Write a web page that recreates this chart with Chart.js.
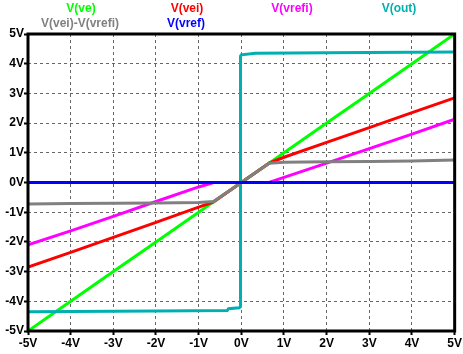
<!DOCTYPE html>
<html lang="en">
  <head>
    <meta charset="UTF-8" />
    <title>LTspice DC sweep</title>
    <style>
      body {
        margin: 0;
        background-color: #ffffff;
      }
      .chart-box {
        position: relative;
        width: 463px;
        height: 354px;
      }
    </style>
    <script src="https://cdn.jsdelivr.net/npm/chart.js"></script>
  </head>
  <body>
    <div class="chart-box">
      <canvas id="sweepChart"></canvas>
    </div>

    <script>
      // sweep values (V) and traces
      const sweepX = [-5, -4, -3, -2, -1, -0.65, 0, 0.65, 1, 2, 3, 4, 5];
      const vVe = [-5, -4, -3, -2, -1, -0.65, 0, 0.65, 1, 2, 3, 4, 5];
      const vVei = [-2.85, -2.35, -1.85, -1.34, -0.83, -0.65, 0, 0.65, 0.85, 1.35, 1.85, 2.35, 2.85];
      const vVrefi = [-2.1, -1.63, -1.14, -0.64, -0.15, 0, 0, 0, 0.17, 0.65, 1.14, 1.63, 2.13];
      const vDiff = [-0.72, -0.71, -0.7, -0.69, -0.67, -0.64, 0, 0.65, 0.68, 0.7, 0.71, 0.72, 0.76];
      const vVref = [0, 0, 0, 0, 0, 0, 0, 0, 0, 0, 0, 0, 0];

      const outX = [-5, -2, -0.33, -0.3, -0.05, -0.02, -0.02, 0, 0.33, 2, 5];
      const vOut = [-4.35, -4.33, -4.31, -4.25, -4.22, -4.18, 4.25, 4.3, 4.35, 4.37, 4.39];

      const tickValues = [-5, -4, -3, -2, -1, 0, 1, 2, 3, 4, 5];

      function pts(xs, ys) {
        return xs.map((x, i) => ({ x: x, y: ys[i] }));
      }

      const traces = [
        { label: 'V(ve)', xs: sweepX, ys: vVe, color: '#00ff00', order: 5, lx: 81, ly: 9 },
        { label: 'V(vei)', xs: sweepX, ys: vVei, color: '#ff0000', order: 4, lx: 187, ly: 9 },
        { label: 'V(vrefi)', xs: sweepX, ys: vVrefi, color: '#ff00ff', order: 3, lx: 292, ly: 9 },
        { label: 'V(out)', xs: outX, ys: vOut, color: '#00b0b0', order: 2, lx: 399, ly: 9 },
        { label: 'V(vei)-V(vrefi)', xs: sweepX, ys: vDiff, color: '#808080', order: 1, lx: 80, ly: 24 },
        { label: 'V(vref)', xs: sweepX, ys: vVref, color: '#0000ff', order: 0, lx: 186, ly: 24 }
      ];

      const labelFont = 'bold 12px "Liberation Sans", Arial, sans-serif';

      // trace names above the plot and the black frame
      const spicePlugin = {
        id: 'spice',
        afterDraw(chart) {
          const ctx = chart.ctx;
          const a = chart.chartArea;
          ctx.save();
          ctx.strokeStyle = '#000';
          ctx.lineWidth = 3;
          ctx.strokeRect(a.left, a.top, a.right - a.left, a.bottom - a.top);
          ctx.font = labelFont;
          ctx.textAlign = 'center';
          ctx.textBaseline = 'middle';
          traces.forEach(t => {
            ctx.fillStyle = t.color;
            ctx.fillText(t.label, t.lx, t.ly);
          });
          ctx.restore();
        }
      };

      const axisStyle = {
        type: 'linear',
        min: -5,
        max: 5,
        afterBuildTicks: axis => {
          axis.ticks = tickValues.map(v => ({ value: v }));
        },
        ticks: {
          color: '#000',
          font: { family: '"Liberation Sans", Arial, sans-serif', size: 12, weight: 'bold' },
          padding: 1,
          callback: v => v + 'V'
        },
        grid: {
          color: '#666',
          lineWidth: 1,
          tickLength: 4,
          tickColor: '#000',
          tickWidth: 2
        },
        border: { display: false, dash: [3, 3] }
      };

      new Chart(document.getElementById('sweepChart'), {
        type: 'line',
        data: {
          datasets: traces.map(t => ({
            label: t.label,
            data: pts(t.xs, t.ys),
            borderColor: t.color,
            backgroundColor: t.color,
            borderWidth: 3,
            pointRadius: 0,
            tension: 0,
            order: t.order
          }))
        },
        options: {
          responsive: true,
          maintainAspectRatio: false,
          animation: false,
          layout: { padding: { top: 34, right: 8, left: 0, bottom: 0 } },
          plugins: { legend: { display: false }, tooltip: { enabled: false } },
          scales: {
            x: Object.assign({}, axisStyle, {
              afterFit: s => { s.height = 23; }
            }),
            y: Object.assign({}, axisStyle, {
              ticks: Object.assign({}, axisStyle.ticks, { padding: 0 }),
              afterFit: s => { s.width = 28; }
            })
          }
        },
        plugins: [spicePlugin]
      });
    </script>
  </body>
</html>
